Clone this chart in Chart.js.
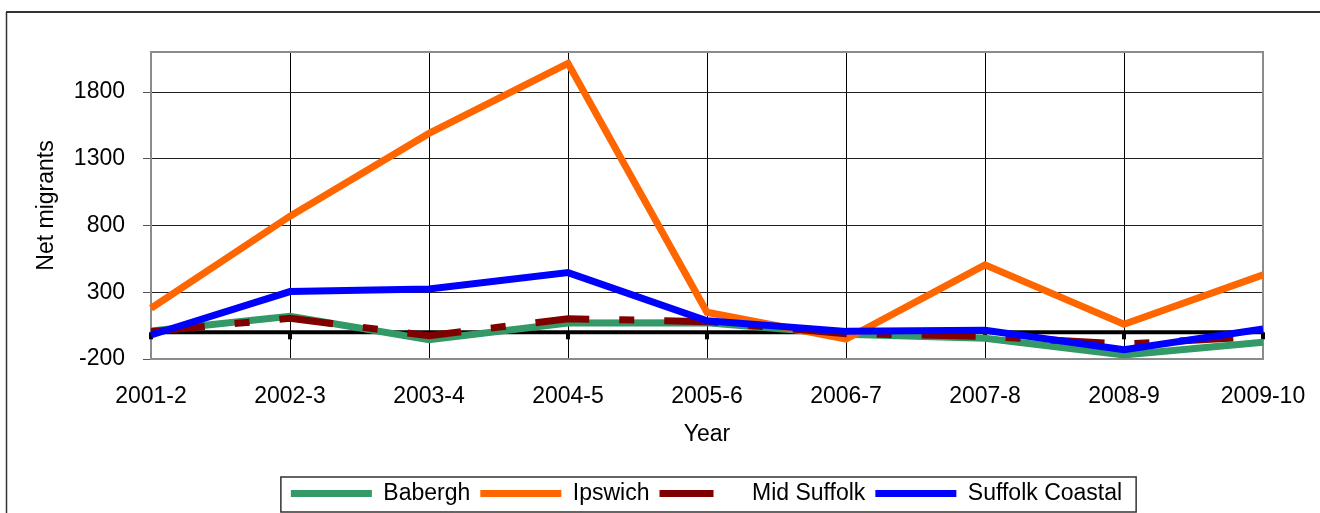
<!DOCTYPE html>
<html>
<head>
<meta charset="utf-8">
<script src="https://cdn.jsdelivr.net/npm/chart.js@4"></script>
<style>
  html, body { margin: 0; padding: 0; background: #fff; }
  #wrap { width: 1320px; height: 513px; }
</style>
</head>
<body>
<div id="wrap"><canvas id="c" width="1320" height="513"></canvas></div>
<script>
const categories = ['2001-2','2002-3','2003-4','2004-5','2005-6','2006-7','2007-8','2008-9','2009-10'];
const babergh        = [10, 120, -55, 70, 72, -15, -45, -170, -75];
const ipswich        = [180, 870, 1490, 2015, 150, -50, 505, 60, 430];
const midSuffolk     = [5, 105, -25, 102, 80, -10, -30, -88, -30];
const suffolkCoastal = [-20, 305, 325, 447, 87, 7, 15, -130, 25];
const yTicks = [-200, 300, 800, 1300, 1800];
const seriesNames = ['Babergh', 'Ipswich', 'Mid Suffolk', 'Suffolk Coastal'];

const FONT = "'Liberation Sans', Arial, sans-serif";
Chart.defaults.font.family = FONT;
Chart.defaults.font.size = 23;
Chart.defaults.color = '#000';

const colors = ['#339966', '#FF6600', '#800000', '#0000FF'];

const framePlugin = {
  id: 'frame',
  beforeDraw(chart) {
    const ctx = chart.ctx;
    ctx.save();
    ctx.fillStyle = '#fff';
    ctx.fillRect(0, 0, chart.width, chart.height);
    ctx.strokeStyle = '#333';
    ctx.lineWidth = 2;
    ctx.beginPath();
    ctx.moveTo(6, 12); ctx.lineTo(chart.width + 2, 12);
    ctx.stroke();
    ctx.lineWidth = 1.5;
    ctx.beginPath();
    ctx.moveTo(6.5, 12); ctx.lineTo(6.5, chart.height + 2);
    ctx.stroke();
    ctx.restore();
  },
  afterLayout(chart) {
    const lg = chart.legend;
    if (!lg) return;
    const d = 706.5 - (lg.left + lg.right) / 2;
    lg.left += d; lg.right += d;
    lg.top += 2; lg.bottom += 2;
  },
  beforeDatasetsDraw(chart) {
    const ctx = chart.ctx;
    const a = chart.chartArea;
    const x = chart.scales.x, y = chart.scales.y;
    ctx.save();
    ctx.strokeStyle = '#8c8c8c';
    ctx.lineWidth = 2;
    ctx.beginPath();
    ctx.moveTo(a.left, a.top); ctx.lineTo(a.right, a.top); ctx.lineTo(a.right, a.bottom);
    ctx.stroke();
    const y0 = y.getPixelForValue(0);
    ctx.strokeStyle = '#000';
    ctx.lineWidth = 4;
    ctx.beginPath();
    ctx.moveTo(a.left, y0); ctx.lineTo(a.right, y0);
    ctx.stroke();
    ctx.fillStyle = '#000';
    for (let i = 0; i < categories.length; i++) {
      const px = x.getPixelForValue(i);
      ctx.fillRect(px - 2, y0, 4, 7);
    }
    ctx.restore();
  },
  afterDraw(chart) {
    const lg = chart.legend;
    if (!lg || !lg.legendHitBoxes || !lg.legendHitBoxes.length) return;
    const hb = lg.legendHitBoxes;
    let l = Infinity, r = -Infinity;
    hb.forEach(h => { l = Math.min(l, h.left); r = Math.max(r, h.left + h.width); });
    const ctx = chart.ctx;
    ctx.save();
    ctx.strokeStyle = '#333';
    ctx.lineWidth = 1.5;
    ctx.strokeRect(l - 10, 477, (r + 14) - (l - 10), 35);
    ctx.restore();
  }
};

new Chart(document.getElementById('c'), {
  type: 'line',
  data: {
    labels: categories,
    datasets: [
      { label: seriesNames[0], data: babergh, borderColor: colors[0], backgroundColor: colors[0], borderWidth: 7, order: 4 },
      { label: seriesNames[1], data: ipswich, borderColor: colors[1], backgroundColor: colors[1], borderWidth: 7, order: 3 },
      { label: seriesNames[2], data: midSuffolk, borderColor: colors[2], backgroundColor: colors[2], borderWidth: 7, borderDash: [54, 30, 15, 30], order: 2 },
      { label: seriesNames[3], data: suffolkCoastal, borderColor: colors[3], backgroundColor: colors[3], borderWidth: 7, order: 1 }
    ]
  },
  options: {
    responsive: false,
    animation: false,
    devicePixelRatio: 1,
    layout: { padding: { top: 52, right: 57, bottom: 0, left: 0 } },
    elements: {
      line: { tension: 0, fill: false, borderCapStyle: 'butt', borderJoinStyle: 'miter' },
      point: { radius: 0, hoverRadius: 0 }
    },
    plugins: {
      title: { display: false },
      tooltip: { enabled: false },
      legend: {
        display: true,
        position: 'bottom',
        align: 'center',
        labels: {
          font: { size: 23, family: FONT },
          color: '#000',
          usePointStyle: true,
          pointStyle: 'line',
          pointStyleWidth: 81,
          padding: 10,
          sort: (a, b) => a.datasetIndex - b.datasetIndex,
          generateLabels(chart) {
            const items = Chart.defaults.plugins.legend.labels.generateLabels(chart);
            items.forEach(it => {
              const i = it.datasetIndex;
              it.text = seriesNames[i];
              it.pointStyle = 'line';
              it.lineWidth = 7;
              it.strokeStyle = colors[i];
              it.fillStyle = colors[i];
              it.lineCap = 'butt';
              it.lineDash = (i === 2) ? [54, 200] : [];
            });
            return items;
          }
        }
      }
    },
    scales: {
      x: {
        type: 'category',
        offset: false,
        grid: { display: true, color: '#000', lineWidth: 1, drawTicks: false },
        border: { display: true, color: '#8c8c8c', width: 2 },
        ticks: { padding: 24, maxRotation: 0, autoSkip: false, font: { size: 23 } },
        title: { display: true, text: 'Year', font: { size: 23 }, padding: { top: 0, bottom: 22 } },
        afterFit(scale) { scale.height = 111; scale.paddingLeft = 0; scale.paddingRight = 0; }
      },
      y: {
        type: 'linear',
        min: -200,
        max: 2100,
        ticks: { stepSize: 500, padding: 18, font: { size: 23 }, callback: v => String(v) },
        afterBuildTicks(scale) { scale.ticks = yTicks.map(v => ({ value: v })); },
        grid: { color: '#222', lineWidth: 1, drawTicks: true, tickLength: 8, tickColor: '#555' },
        border: { display: true, color: '#8c8c8c', width: 2 },
        title: { display: true, text: 'Net migrants', font: { size: 23 }, padding: { top: 33, bottom: 0 } },
        afterFit(scale) { scale.width = 151; scale.paddingTop = 0; scale.paddingBottom = 0; }
      }
    }
  },
  plugins: [framePlugin]
});
</script>
</body>
</html>
